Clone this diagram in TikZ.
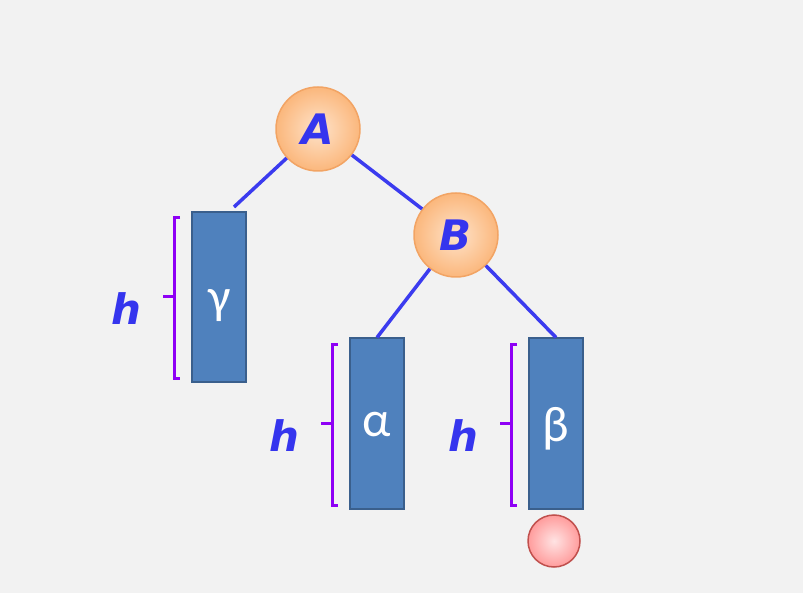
\documentclass[tikz,border=0pt]{standalone}
\usepackage{fontspec}
\setmainfont{Carlito}
\newfontfamily\keyfamily{DejaVu Sans}
\usepackage{xcolor}
\usetikzlibrary{positioning}
\definecolor{bgcol}{HTML}{F2F2F2}
\definecolor{edgeblue}{HTML}{3B3BEF}
\definecolor{textblue}{HTML}{3535EE}
\definecolor{boxfill}{HTML}{4F81BD}
\definecolor{boxline}{HTML}{3A5F8C}
\definecolor{bracketpurple}{HTML}{8E00F5}
\definecolor{keyinner}{HTML}{FEE3CA}
\definecolor{keyouter}{HTML}{FBB77C}
\definecolor{keyline}{HTML}{F2A464}
\definecolor{dotinner}{HTML}{FFE3E3}
\definecolor{dotouter}{HTML}{FF9C9C}
\definecolor{dotline}{HTML}{C0504D}
\newcommand{\keyfont}{\keyfamily\fontsize{42}{42}\selectfont\bfseries\itshape}
\newcommand{\greekfont}{\fontsize{50}{50}\selectfont}
\newcommand{\heightbracket}[1]{%
\draw[bracket] ([xshift=-11pt,yshift=-7pt]#1.north west) -- ++(-6,0) |- ([xshift=-11pt,yshift=4pt]#1.south west);
\draw[bracket] ([xshift=-17pt]#1.west) -- ++(-11,0) coordinate (#1tip);
\node[hlabel,left=21pt of #1tip,yshift=-12pt] (#1h) {h};}

\begin{document}
\begin{tikzpicture}[x=1pt,y=-1pt]
\tikzstyle{key}=[circle,minimum size=84pt,inner sep=0pt,draw=keyline,line width=1.5pt,inner color=keyinner,outer color=keyouter,text=textblue,font=\keyfont]
\tikzstyle{subtree}=[rectangle,minimum width=54pt,minimum height=170pt,inner sep=0pt,fill=boxfill,draw=boxline,line width=2pt]
\tikzstyle{greek}=[text=white,font=\greekfont,inner sep=0pt]
\tikzstyle{branch}=[draw=edgeblue,line width=3.5pt]
\tikzstyle{bracket}=[draw=bracketpurple,line width=3pt]
\tikzstyle{hlabel}=[inner sep=0pt,text=textblue,font=\keyfont]
\useasboundingbox[fill=bgcol] (0,0) rectangle (803,593);
\node[key] (A) at (318,129) {A};
\node[key] (B) at (456,235) {B};
\node[subtree] (gamma) at (219,297) {};
\node[subtree] (alpha) at (377,423.5) {};
\node[subtree] (beta) at (556,423.5) {};
\node[greek] (gammatext) at (220,306) {γ};
\node[greek] (alphatext) at (377,425) {α};
\node[greek] (betatext) at (556,429) {β};
\node[circle,minimum size=52pt,inner sep=0pt,draw=dotline,line width=1.5pt,inner color=dotinner,outer color=dotouter] (dot) at (554,541) {};
\path[branch] (A) edge ([xshift=15pt,yshift=4pt]gamma.north)
  (A) edge (B)
  (B) edge (alpha.north)
  (B) edge (beta.north);
\heightbracket{gamma}
\heightbracket{alpha}
\heightbracket{beta}
\end{tikzpicture}
\end{document}
